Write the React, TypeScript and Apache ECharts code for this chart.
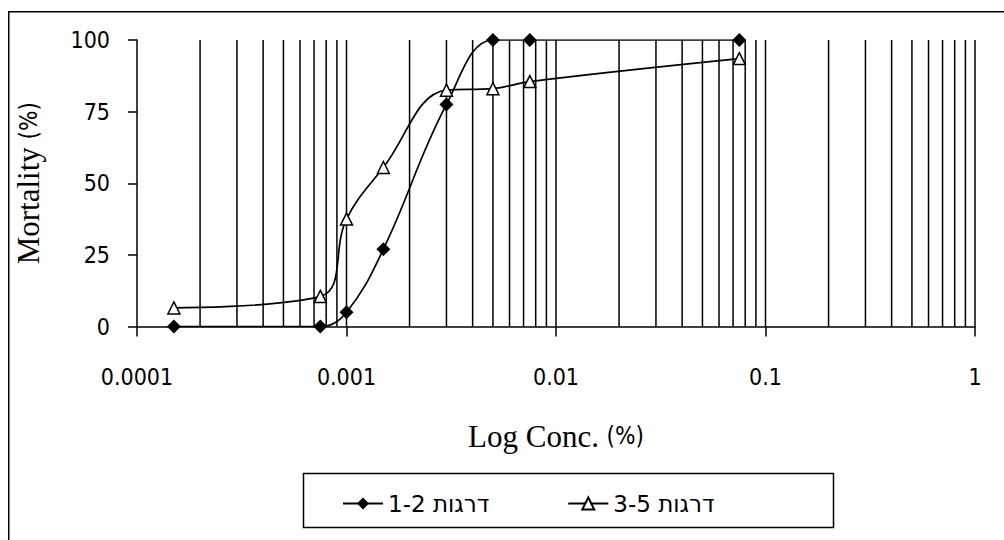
import React, { useEffect, useRef } from 'react';
import * as echarts from 'echarts';

// Concentration (%) on a log axis
const concentrations = [0.00015, 0.00075, 0.001, 0.0015, 0.003, 0.005, 0.0075, 0.075];
// Mortality (%) per larval stage group
const mortalityStage12 = [0, 0, 5, 27, 77.5, 100, 100, 100];
const mortalityStage35 = [6.5, 10.5, 37.5, 55.5, 82.5, 83, 85.5, 93.5];
const seriesNames = ['דרגות 1-2', 'דרגות 3-5'];
const xTickLabels = ['0.0001', '0.001', '0.01', '0.1', '1'];
// vertical grid lines of the log scale
const gridLinesX = [
  0.0002, 0.0003, 0.0004, 0.0005, 0.0006, 0.0007, 0.0008, 0.0009,
  0.001, 0.002, 0.003, 0.004, 0.005, 0.006, 0.007, 0.008, 0.009,
  0.01, 0.02, 0.03, 0.04, 0.05, 0.06, 0.07, 0.08, 0.09,
  0.1, 0.2, 0.3, 0.4, 0.5, 0.6, 0.7, 0.8, 0.9,
  1,
];

const SANS = "'DejaVu Sans Condensed', 'DejaVu Sans', sans-serif";
const LEGEND_SANS = "'DejaVu Sans', sans-serif";
const SERIF = "'Liberation Serif', 'DejaVu Serif', serif";

export default function App() {
  const ref = useRef<HTMLDivElement>(null);
  useEffect(() => {
    if (!ref.current) return;
    const chart = echarts.init(ref.current, undefined, { renderer: 'svg' });
    const pairs = (ys: number[]) => concentrations.map((x, i) => [x, ys[i]]);
    const option: any = {
      animation: false,
      backgroundColor: '#fff',
      grid: { left: 137, right: 29, top: 40, bottom: 213.5, outerBoundsMode: 'none', containLabel: false },
      xAxis: {
        type: 'log',
        logBase: 10,
        min: 0.0001,
        max: 1,
        axisLine: { show: true, lineStyle: { color: '#000', width: 1.5 } },
        axisTick: { show: true, length: 10, lineStyle: { color: '#000', width: 1.5 } },
        splitLine: { show: false },
        axisLabel: {
          margin: 39,
          color: '#000',
          fontFamily: SANS,
          fontSize: 23,
          formatter: (v: number) => xTickLabels[Math.round(Math.log10(v)) + 4] ?? String(v),
        },
        name: '{a|Log Conc. }{b|(%)}',
        nameLocation: 'middle',
        nameGap: 94,
        nameTextStyle: {
          color: '#000',
          rich: {
            a: { fontFamily: SERIF, fontSize: 31, color: '#000' },
            b: { fontFamily: SANS, fontSize: 24, color: '#000' },
          },
        },
      },
      yAxis: {
        type: 'value',
        min: 0,
        max: 100,
        interval: 25,
        axisLine: { show: true, lineStyle: { color: '#000', width: 1.5 } },
        axisTick: { show: true, length: 9, lineStyle: { color: '#000', width: 1.5 } },
        splitLine: { show: false },
        axisLabel: { margin: 27, color: '#000', fontFamily: SANS, fontSize: 23 },
        name: '{a|Mortality }{b|(%)}',
        nameLocation: 'middle',
        nameGap: 93,
        nameTextStyle: {
          color: '#000',
          rich: {
            a: { fontFamily: SERIF, fontSize: 31, color: '#000' },
            b: { fontFamily: SANS, fontSize: 24, color: '#000' },
          },
        },
      },
      legend: {
        left: 342,
        top: 492,
        itemWidth: 40,
        itemHeight: 15,
        itemGap: 78,
        padding: 0,
        textStyle: { fontFamily: LEGEND_SANS, fontSize: 23, color: '#000' },
        formatter: (name: string) => '\u202B' + name + '\u202C',
        data: seriesNames,
      },
      graphic: [
        {
          type: 'rect',
          shape: { x: 8.75, y: 11.75, width: 1100, height: 700 },
          style: { fill: 'none', stroke: '#000', lineWidth: 1.5 },
          silent: true,
        },
        {
          type: 'rect',
          shape: { x: 303.5, y: 473.5, width: 530, height: 54 },
          style: { fill: 'none', stroke: '#000', lineWidth: 1.5 },
          silent: true,
        },
      ],
      series: [
        {
          name: 'grid',
          type: 'custom',
          silent: true,
          z: 1,
          data: gridLinesX.map((v) => [v]),
          encode: { x: 0 },
          renderItem: (_params: any, api: any) => {
            const x = api.value(0);
            const top = api.coord([x, 100]);
            const bottom = api.coord([x, 0]);
            return {
              type: 'line',
              shape: { x1: top[0], y1: top[1], x2: bottom[0], y2: bottom[1] },
              style: { stroke: '#000', lineWidth: 1.5 },
            };
          },
        },
        {
          name: seriesNames[0],
          type: 'line',
          data: pairs(mortalityStage12),
          smooth: 0.4,
          symbol: 'diamond',
          symbolSize: 14,
          z: 3,
          lineStyle: { color: '#000', width: 1.7 },
          itemStyle: { color: '#000', borderColor: '#000', borderWidth: 0 },
        },
        {
          name: seriesNames[1],
          type: 'line',
          data: pairs(mortalityStage35),
          smooth: 0.4,
          symbol: 'triangle',
          symbolSize: 12,
          z: 4,
          lineStyle: { color: '#000', width: 1.7 },
          itemStyle: { color: '#fff', borderColor: '#000', borderWidth: 1.5 },
        },
      ],
    };
    chart.setOption(option);
    return () => chart.dispose();
  }, []);
  return (
    <div
      ref={ref}
      style={{ position: 'fixed', left: 0, top: 0, width: 1004, height: 540 }}
    />
  );
}
